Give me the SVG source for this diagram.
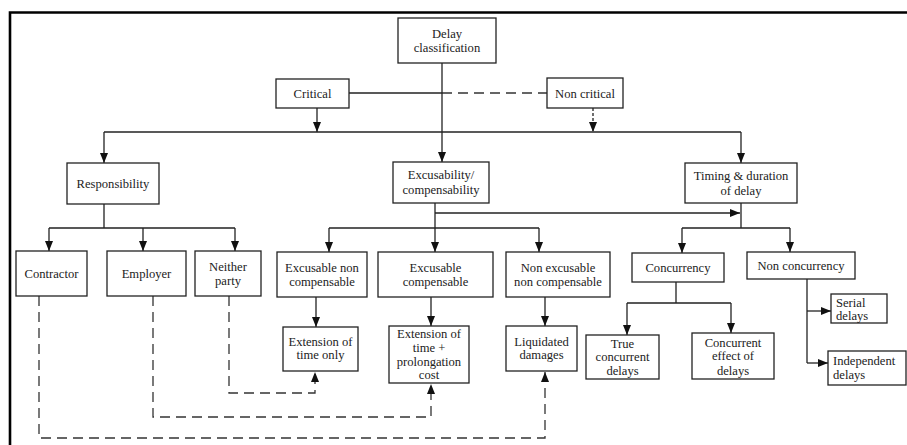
<svg xmlns="http://www.w3.org/2000/svg" width="907" height="445" viewBox="0 0 907 445">
<style>
  .box { fill: #fff; stroke: #222; stroke-width: 1.3; }
  text { font-family: 'Liberation Serif', 'DejaVu Serif', serif; font-size: 12.6px; fill: #222; }
  .t { text-anchor: middle; }
  .tl { text-anchor: start; }
  .ln { fill: none; stroke: #222; stroke-width: 1.3; }
  .dash { fill: none; stroke: #333; stroke-width: 1.3; stroke-dasharray: 10 6; }
  .dot { fill: none; stroke: #222; stroke-width: 1.3; stroke-dasharray: 3 2; }
  .frame { fill: none; stroke: #000; stroke-width: 2.6; }
</style>
<defs>
  <marker id="ah" markerUnits="userSpaceOnUse" markerWidth="10" markerHeight="10" viewBox="0 0 10 8" refX="10" refY="4" orient="auto">
    <path d="M0,0 L10,4 L0,8 z" fill="#111"/>
  </marker>
</defs>
<rect width="907" height="445" fill="#fff"/>
<g id="frame">
  <path class="frame" d="M10,445 L10,12.5 L907,12.5"/>
</g>
<g id="connectors">
  <path class="ln" d="M349,93 H442"/>
  <path class="dash" d="M442,93 H547"/>
  <path class="ln" d="M442,63 V162" marker-end="url(#ah)"/>
  <path class="ln" d="M317,108 V132" marker-end="url(#ah)"/>
  <path class="dot" d="M593,108 V132" marker-end="url(#ah)"/>
  <path class="ln" d="M104,132 H741"/>
  <path class="ln" d="M104,132 V163" marker-end="url(#ah)"/>
  <path class="ln" d="M741,132 V163" marker-end="url(#ah)"/>
  <path class="ln" d="M104,204 V228 M49,228 H235"/>
  <path class="ln" d="M49,228 V251" marker-end="url(#ah)"/>
  <path class="ln" d="M143,228 V251" marker-end="url(#ah)"/>
  <path class="ln" d="M235,228 V251" marker-end="url(#ah)"/>
  <path class="ln" d="M435,203 V252" marker-end="url(#ah)"/>
  <path class="ln" d="M329,228 H539"/>
  <path class="ln" d="M329,228 V252" marker-end="url(#ah)"/>
  <path class="ln" d="M539,228 V252" marker-end="url(#ah)"/>
  <path class="ln" d="M435,213 H740" marker-end="url(#ah)"/>
  <path class="ln" d="M741,203 V228 M682,228 H790"/>
  <path class="ln" d="M682,228 V253" marker-end="url(#ah)"/>
  <path class="ln" d="M790,228 V252" marker-end="url(#ah)"/>
  <path class="ln" d="M676,282 V303 M627,303 H731"/>
  <path class="ln" d="M627,303 V335" marker-end="url(#ah)"/>
  <path class="ln" d="M731,303 V333" marker-end="url(#ah)"/>
  <path class="ln" d="M807,279 V363"/>
  <path class="ln" d="M807,311 H831" marker-end="url(#ah)"/>
  <path class="ln" d="M807,363 H828" marker-end="url(#ah)"/>
  <path class="ln" d="M316,297 V327" marker-end="url(#ah)"/>
  <path class="ln" d="M431,297 V326" marker-end="url(#ah)"/>
  <path class="ln" d="M545,297 V326" marker-end="url(#ah)"/>
  <path class="dash" d="M229,296 V393 H315 V372" marker-end="url(#ah)"/>
  <path class="dash" d="M153,296 V417 H431 V384" marker-end="url(#ah)"/>
  <path class="dash" d="M39,296 V438 H545 V372" marker-end="url(#ah)"/>
</g>
<g id="delay"><rect class="box" x="398" y="18" width="98" height="45"/><text class="t" x="447" y="37.5">Delay</text><text class="t" x="447" y="51.5">classification</text></g>
<g id="critical"><rect class="box" x="276" y="79" width="73" height="29"/><text class="t" x="312.5" y="98">Critical</text></g>
<g id="noncritical"><rect class="box" x="547" y="78" width="76" height="30"/><text class="t" x="585" y="97.5">Non critical</text></g>
<g id="responsibility"><rect class="box" x="67" y="163" width="92" height="41"/><text class="t" x="113" y="188">Responsibility</text></g>
<g id="excusability"><rect class="box" x="393" y="162" width="96" height="41"/><text class="t" x="441" y="178.5">Excusability/</text><text class="t" x="441" y="194">compensability</text></g>
<g id="timing"><rect class="box" x="685" y="163" width="112" height="40"/><text class="t" x="741" y="179.5">Timing &amp; duration</text><text class="t" x="741" y="194.5">of delay</text></g>
<g id="contractor"><rect class="box" x="16" y="251" width="71" height="45"/><text class="t" x="51.5" y="278">Contractor</text></g>
<g id="employer"><rect class="box" x="107" y="251" width="79" height="45"/><text class="t" x="146.5" y="278">Employer</text></g>
<g id="neither"><rect class="box" x="195" y="251" width="66" height="45"/><text class="t" x="228" y="270.5">Neither</text><text class="t" x="228" y="284.5">party</text></g>
<g id="excnc"><rect class="box" x="277" y="252" width="90" height="45"/><text class="t" x="322" y="271.5">Excusable non</text><text class="t" x="322" y="285.5">compensable</text></g>
<g id="excc"><rect class="box" x="378" y="252" width="115" height="45"/><text class="t" x="435.5" y="271.5">Excusable</text><text class="t" x="435.5" y="285.5">compensable</text></g>
<g id="nexc"><rect class="box" x="506" y="252" width="104" height="45"/><text class="t" x="558" y="271.5">Non excusable</text><text class="t" x="558" y="285.5">non compensable</text></g>
<g id="concurrency"><rect class="box" x="632" y="253" width="92" height="29"/><text class="t" x="678" y="271.5">Concurrency</text></g>
<g id="nonconcurrency"><rect class="box" x="747" y="252" width="108" height="27"/><text class="t" x="801" y="270">Non concurrency</text></g>
<g id="eot"><rect class="box" x="283" y="327" width="75" height="44"/><text class="t" x="320.5" y="346">Extension of</text><text class="t" x="320.5" y="359">time only</text></g>
<g id="eotp"><rect class="box" x="389" y="326" width="80" height="57"/><text class="t" x="429" y="337.5">Extension of</text><text class="t" x="429" y="351.5">time +</text><text class="t" x="429" y="365.5">prolongation</text><text class="t" x="429" y="378.5">cost</text></g>
<g id="ld"><rect class="box" x="506" y="326" width="71" height="45"/><text class="t" x="541.5" y="345.5">Liquidated</text><text class="t" x="541.5" y="359">damages</text></g>
<g id="trueconc"><rect class="box" x="586" y="335" width="73" height="44"/><text class="t" x="622.5" y="348">True</text><text class="t" x="622.5" y="361">concurrent</text><text class="t" x="622.5" y="374.5">delays</text></g>
<g id="conceff"><rect class="box" x="692" y="333" width="82" height="46"/><text class="t" x="733" y="347">Concurrent</text><text class="t" x="733" y="360">effect of</text><text class="t" x="733" y="374.5">delays</text></g>
<g id="serial"><rect class="box" x="831" y="294" width="56" height="29"/><text class="tl" x="836" y="306.5">Serial</text><text class="tl" x="836" y="320">delays</text></g>
<g id="independent"><rect class="box" x="828" y="351" width="78" height="34"/><text class="tl" x="833" y="365">Independent</text><text class="tl" x="833" y="379">delays</text></g>
</svg>
